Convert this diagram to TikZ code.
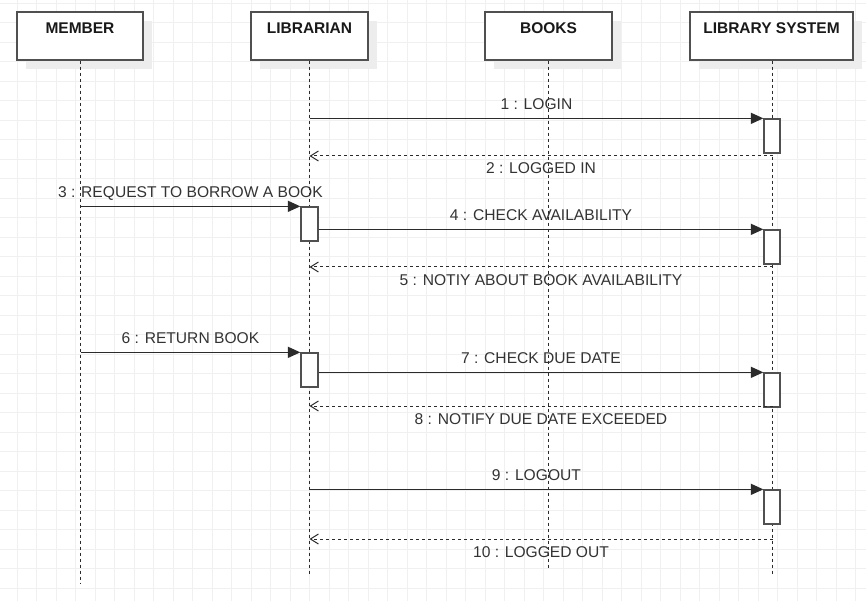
\documentclass[tikz,border=0pt]{standalone}
\usepackage{fontspec}
\setmainfont{Liberation Sans}
\usetikzlibrary{arrows.meta,shadows}

\definecolor{gridgray}{HTML}{F0F0F0}
\definecolor{linegray}{HTML}{2B2B2B}
\definecolor{boxgray}{HTML}{505050}
\definecolor{textgray}{HTML}{333333}

\tikzset{
  headbox/.style={draw=boxgray, line width=1.3pt, fill=white,
    minimum height=48pt, inner xsep=0pt, inner ysep=9.7pt,
    text height=11.2pt, text depth=17.1pt, text=black!90,
    font=\fontsize{15.5}{18}\selectfont\bfseries,
    drop shadow={shadow xshift=9pt, shadow yshift=-9pt, fill=black!7, opacity=1}},
  actbox/.style={draw=boxgray, line width=1.3pt, fill=white,
    minimum width=16pt, minimum height=34pt, inner sep=0pt},
  lifeline/.style={draw=linegray, line width=1pt, dash pattern=on 3pt off 3pt},
  msg/.style={draw=linegray, line width=1.3pt, -{Triangle[length=12.5pt,width=11pt]}},
  reply/.style={draw=linegray, line width=1pt, dash pattern=on 3pt off 3pt,
    -{Straight Barb[length=8pt,width=10pt,line width=1pt]}},
  msglabel/.style={font=\fontsize{15.6}{18}\selectfont, text=textgray,
    inner sep=0pt, text height=11pt, text depth=0pt}
}

\begin{document}
\begin{tikzpicture}[x=1pt, y=-1pt]

  % page and grid
  \fill[white] (0,0) rectangle (866,601);
  \useasboundingbox (0,0) rectangle (866,601);
  \foreach \k in {0,...,43}
    \draw[gridgray, line width=0.7pt] ({17.2+19.5*\k},0) -- ({17.2+19.5*\k},601);
  \foreach \k in {0,...,30}
    \draw[gridgray, line width=0.7pt] (0,{3.2+19.5*\k}) -- (866,{3.2+19.5*\k});

  % participants
  \node[headbox, minimum width=126pt] (member) at (80,36) {MEMBER};
  \node[headbox, minimum width=117pt] (librarian) at (309.5,36) {LIBRARIAN};
  \node[headbox, minimum width=127pt] (books) at (548.5,36) {BOOKS};
  \node[headbox, minimum width=163pt] (libsys) at (771.5,36) {LIBRARY SYSTEM};

  % lifeline ends
  \coordinate (memberEnd) at (80.5,583);
  \coordinate (librarianEnd) at (309.5,576);
  \coordinate (booksEnd) at (548.5,568);
  \coordinate (libsysEnd) at (772.5,576);

  % lifelines
  \draw[lifeline] (member.south -| memberEnd) -- (memberEnd);
  \draw[lifeline] (librarian.south) -- (librarianEnd);
  \draw[lifeline] (books.south) -- (booksEnd);
  \draw[lifeline] (libsys.south -| libsysEnd) -- (libsysEnd);

  % activations
  \node[actbox] (sys1) at (772,136) {};
  \node[actbox] (sys2) at (772,247) {};
  \node[actbox] (sys3) at (772,390) {};
  \node[actbox] (sys4) at (772,507) {};
  \node[actbox, minimum width=17pt] (lib1) at (309.5,224) {};
  \node[actbox, minimum width=17pt] (lib2) at (309.5,370) {};

  % return points on the system lifeline
  \coordinate (ret1) at (772.5,156);
  \coordinate (ret2) at (772.5,267);
  \coordinate (ret3) at (772.5,406);
  \coordinate (ret4) at (772.5,539);

  % messages
  \draw[msg] (librarian |- sys1.north) -- (sys1.north west)
    node[msglabel, midway, above=8.5pt] (m1) {1 : LOGIN};
  \draw[reply] (ret1) -- (ret1 -| librarian)
    node[msglabel, midway, below=6.5pt] (m2) {2 : LOGGED IN};

  \draw[msg] (memberEnd |- lib1.north) -- (lib1.north west)
    node[msglabel, midway, above=8.5pt] (m3) {3 : REQUEST TO BORROW A BOOK};
  \draw[msg] (lib1.east |- sys2.north) -- (sys2.north west)
    node[msglabel, midway, above=8.5pt] (m4) {4 : CHECK AVAILABILITY};
  \draw[reply] (ret2) -- (ret2 -| librarian)
    node[msglabel, midway, below=6.5pt] (m5) {5 : NOTIY ABOUT BOOK AVAILABILITY};

  \draw[msg] (memberEnd |- lib2.north) -- (lib2.north west)
    node[msglabel, midway, above=8.5pt] (m6) {6 : RETURN BOOK};
  \draw[msg] (lib2.east |- sys3.north) -- (sys3.north west)
    node[msglabel, midway, above=8.5pt] (m7) {7 : CHECK DUE DATE};
  \draw[reply] (ret3) -- (ret3 -| librarian)
    node[msglabel, midway, below=6.5pt] (m8) {8 : NOTIFY DUE DATE EXCEEDED};

  \draw[msg] (librarian |- sys4.north) -- (sys4.north west)
    node[msglabel, midway, above=8.5pt] (m9) {9 : LOGOUT};
  \draw[reply] (ret4) -- (ret4 -| librarian)
    node[msglabel, midway, below=6.5pt] (m10) {10 : LOGGED OUT};

\end{tikzpicture}
\end{document}
